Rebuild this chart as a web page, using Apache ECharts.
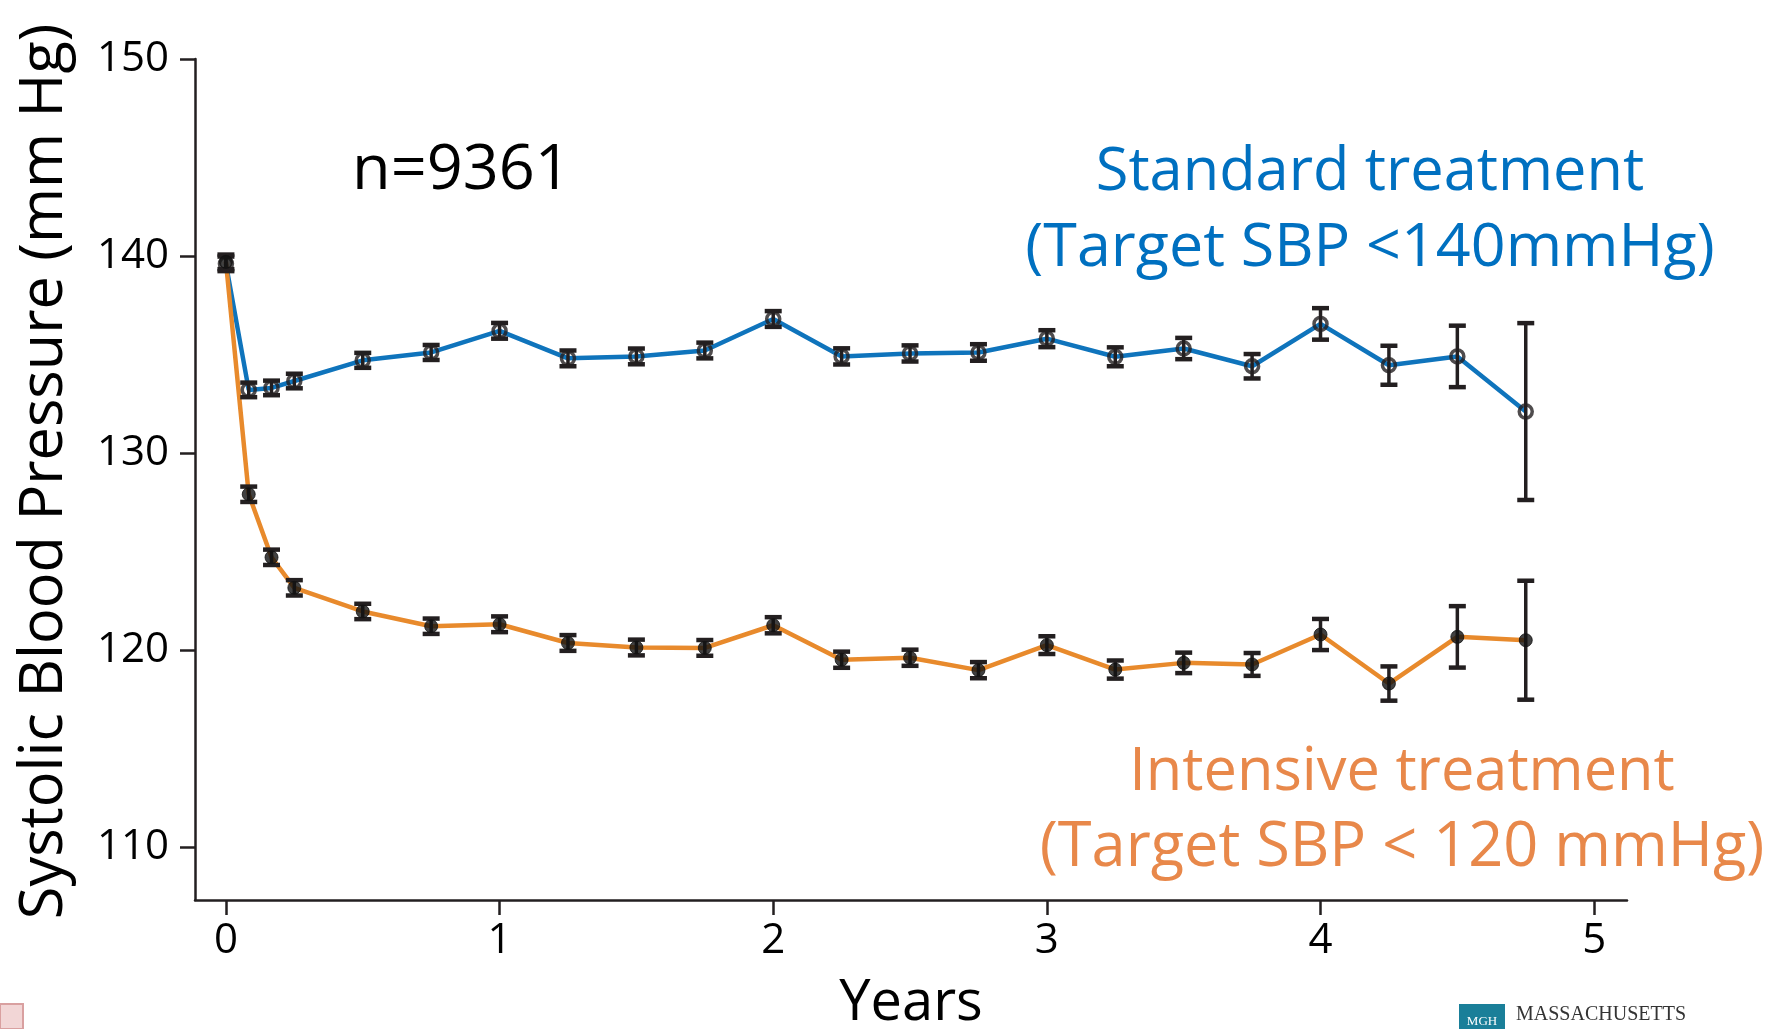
<!DOCTYPE html>
<html>
<head>
<meta charset="utf-8">
<script src="https://cdn.jsdelivr.net/npm/echarts@6/dist/echarts.min.js"></script>
<style>
  html, body { margin: 0; padding: 0; background: #fff; }
  #chart { width: 1779px; height: 1029px; }
</style>
</head>
<body>
<div id="chart"></div>
<script>
// visit times (months since randomisation)
const visitMonths = [0, 1, 2, 3, 6, 9, 12, 15, 18, 21, 24, 27, 30, 33, 36, 39, 42, 45, 48, 51, 54, 57];
// mean SBP, standard arm (target < 140)
const standardSbp = [139.6, 133.2, 133.3, 133.65, 134.7, 135.1, 136.2, 134.8, 134.9, 135.2, 136.8,
    134.9, 135.05, 135.1, 135.8, 134.88, 135.3, 134.4, 136.55, 134.45, 134.9, 132.1];
const standardErr = [0.37, 0.37, 0.37, 0.37, 0.38, 0.38, 0.4, 0.4, 0.4, 0.4, 0.4,
    0.41, 0.41, 0.42, 0.43, 0.48, 0.54, 0.62, 0.8, 0.99, 1.56, 4.49];
// mean SBP, intensive arm (target < 120)
const intensiveSbp = [139.7, 127.9, 124.7, 123.15, 121.95, 121.2, 121.3, 120.35, 120.12, 120.1, 121.25,
    119.5, 119.6, 118.97, 120.24, 119.0, 119.34, 119.26, 120.78, 118.29, 120.66, 120.49];
const intensiveErr = [0.37, 0.39, 0.39, 0.39, 0.39, 0.39, 0.4, 0.4, 0.4, 0.4, 0.41,
    0.41, 0.41, 0.41, 0.45, 0.46, 0.52, 0.58, 0.79, 0.87, 1.56, 3.02];
// axis ticks
const yearTicks = [0, 1, 2, 3, 4, 5];
const sbpTicks = [110, 120, 130, 140, 150];

const FONT = '"Open Sans", "Noto Sans", sans-serif';
const INK = '#231f20';
const BLUE = '#0f74bc';
const ORANGE = '#e88a2c';

const years = visitMonths.map(m => m / 12);
const pts = vals => vals.map((v, i) => [years[i], v]);
const bars = (vals, errs) => vals.map((v, i) => [years[i], v - errs[i], v + errs[i]]);

function renderErrorBar(params, api) {
    const lo = api.coord([api.value(0), api.value(1)]);
    const hi = api.coord([api.value(0), api.value(2)]);
    const cap = 8.5;
    return {
        type: 'group',
        children: [
            { type: 'line', shape: { x1: lo[0], y1: lo[1], x2: hi[0], y2: hi[1] }, style: { stroke: INK, lineWidth: 3.5 } },
            { type: 'line', shape: { x1: lo[0] - cap, y1: lo[1], x2: lo[0] + cap, y2: lo[1] }, style: { stroke: INK, lineWidth: 4.5 } },
            { type: 'line', shape: { x1: hi[0] - cap, y1: hi[1], x2: hi[0] + cap, y2: hi[1] }, style: { stroke: INK, lineWidth: 4.5 } }
        ]
    };
}

const chart = echarts.init(document.getElementById('chart'));

const option = {
    backgroundColor: '#fff',
    animation: false,
    textStyle: { fontFamily: FONT },
    grid: { left: 195, right: 152, top: 59, bottom: 129, containLabel: false, outerBoundsMode: 'none' },
    xAxis: {
        type: 'value',
        min: -0.113,
        max: 5.12,
        name: 'Years',
        nameLocation: 'middle',
        nameGap: 76,
        nameTextStyle: { fontSize: 56, color: '#000', fontFamily: FONT },
        axisLine: { show: true, onZero: false, lineStyle: { color: INK, width: 2.5 } },
        axisTick: { show: true, length: 15, lineStyle: { color: INK, width: 2.5 }, customValues: yearTicks },
        axisLabel: { fontSize: 42, color: '#000', margin: 20, customValues: yearTicks, fontFamily: FONT },
        splitLine: { show: false }
    },
    yAxis: {
        type: 'value',
        min: 107.3,
        max: 150,
        name: 'Systolic Blood Pressure (mm Hg)',
        nameLocation: 'middle',
        nameRotate: 90,
        nameGap: 120,
        nameTextStyle: { fontSize: 59.5, color: '#000', fontFamily: FONT, padding: [0, 0, 0, 16] },
        axisLine: { show: true, onZero: false, lineStyle: { color: INK, width: 2.5 } },
        axisTick: { show: true, length: 15, lineStyle: { color: INK, width: 2.5 }, customValues: sbpTicks },
        axisLabel: { fontSize: 42, color: '#000', margin: 26, customValues: sbpTicks, fontFamily: FONT },
        splitLine: { show: false }
    },
    graphic: [
        { type: 'text', left: 352, top: 140, style: { text: 'n=9361', fontSize: 63, fill: '#000', fontFamily: FONT } },
        { type: 'text', x: 1370, y: 173, style: { text: 'Standard treatment', fontSize: 59.5, fill: '#0070c0', fontFamily: FONT, align: 'center', verticalAlign: 'middle' } },
        { type: 'text', x: 1370, y: 249, style: { text: '(Target SBP <140mmHg)', fontSize: 61, fill: '#0070c0', fontFamily: FONT, align: 'center', verticalAlign: 'middle' } },
        { type: 'text', x: 1402, y: 773, style: { text: 'Intensive treatment', fontSize: 59.5, fill: '#e8884a', fontFamily: FONT, align: 'center', verticalAlign: 'middle' } },
        { type: 'text', x: 1402, y: 849, style: { text: '(Target SBP < 120 mmHg)', fontSize: 61.3, fill: '#e8884a', fontFamily: FONT, align: 'center', verticalAlign: 'middle' } },
        // footer logos
        { type: 'rect', shape: { x: 0, y: 1004, width: 23, height: 25 }, style: { fill: '#f2d6d6', stroke: '#d9a0a0', lineWidth: 2 } },
        { type: 'rect', shape: { x: 1459, y: 1004, width: 46, height: 25 }, style: { fill: '#1a7f99' } },
        { type: 'text', x: 1482, y: 1022, style: { text: 'MGH', fontSize: 13, fill: '#fff', fontFamily: 'Liberation Serif', align: 'center', verticalAlign: 'middle' } },
        { type: 'text', left: 1516, top: 1005, style: { text: 'MASSACHUSETTS', fontSize: 20, fill: '#333', fontFamily: '"Liberation Serif", serif' } }
    ],
    series: [
        { name: 'Standard', type: 'line', data: pts(standardSbp), showSymbol: false, z: 2,
          lineStyle: { color: BLUE, width: 4.5 } },
        { name: 'Intensive', type: 'line', data: pts(intensiveSbp), showSymbol: false, z: 2,
          lineStyle: { color: ORANGE, width: 4.5 } },
        { name: 'Standard CI', type: 'custom', renderItem: renderErrorBar, data: bars(standardSbp, standardErr), z: 3 },
        { name: 'Intensive CI', type: 'custom', renderItem: renderErrorBar, data: bars(intensiveSbp, intensiveErr), z: 3 },
        { name: 'Standard mean', type: 'scatter', data: pts(standardSbp), symbol: 'circle', symbolSize: 13, z: 4,
          itemStyle: { color: 'rgba(0,0,0,0)', borderColor: INK, borderWidth: 3.5 } },
        { name: 'Intensive mean', type: 'scatter', data: pts(intensiveSbp), symbol: 'circle', symbolSize: 13, z: 4,
          itemStyle: { color: '#111', borderColor: '#111', borderWidth: 1 } }
    ]
};

chart.setOption(option);
window.addEventListener('resize', function () {
    chart.resize();
});
</script>
</body>
</html>
